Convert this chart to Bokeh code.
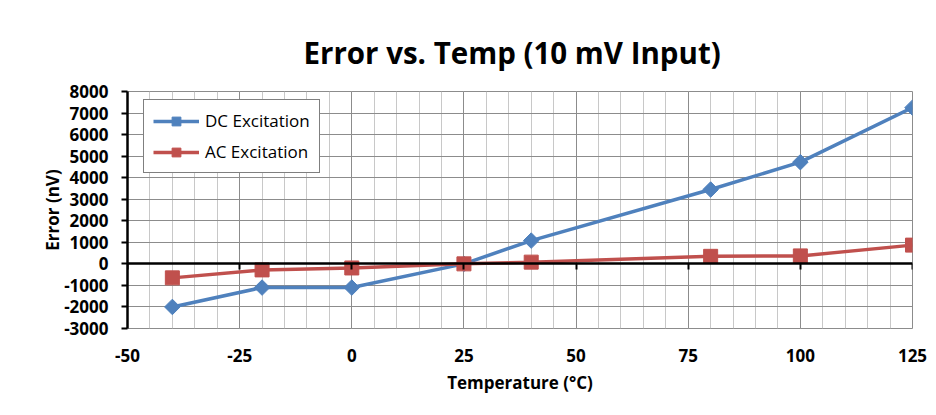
import numpy as np
from bokeh.plotting import figure
from bokeh.models import (Range1d, LinearAxis, SingleIntervalTicker, NumeralTickFormatter)
from bokeh.embed import file_html
from bokeh.resources import INLINE

# ---- data ----
temps = [-40, -20, 0, 25, 40, 80, 100, 125]
dc_error = [-2000, -1100, -1100, 0, 1080, 3450, 4720, 7250]
ac_error = [-650, -280, -190, 0, 80, 350, 370, 870]

title_text = "Error vs. Temp (10 mV Input)"
x_label = "Temperature (°C)"
y_label = "Error (nV)"
dc_name = "DC Excitation"
ac_name = "AC Excitation"

FONT = "Open Sans"
BLUE = "#4f81bd"
RED = "#c0504d"
MAJOR_GRID = "#8c8c8c"
MINOR_GRID = "#c8c8c8"

p = figure(width=936, height=410,
           x_range=Range1d(-50, 125), y_range=Range1d(-3000, 8000),
           output_backend="svg", toolbar_location=None,
           min_border_left=127, min_border_right=24,
           min_border_top=91, min_border_bottom=82)
p.background_fill_color = "white"
p.border_fill_color = "white"
p.outline_line_color = MAJOR_GRID

# title
p.title.text = title_text
p.title.align = "left"
p.title.offset = 176
p.title.standoff = 38
p.title.text_font = FONT
p.title.text_font_style = "bold"
p.title.text_font_size = "29.5px"
p.title.text_color = "black"

# x axis (labels at bottom, no line)
xax = p.below[0]
xax.ticker = SingleIntervalTicker(interval=25, num_minor_ticks=5)
xax.formatter = NumeralTickFormatter(format="0")
xax.axis_line_color = None
xax.major_tick_line_color = None
xax.minor_tick_line_color = None
xax.major_label_standoff = 14
xax.major_label_text_font = FONT
xax.major_label_text_font_style = "bold"
xax.major_label_text_font_size = "17px"
xax.major_label_text_color = "black"
xax.axis_label = x_label
xax.axis_label_standoff = 6
xax.axis_label_text_font = FONT
xax.axis_label_text_font_style = "bold"
xax.axis_label_text_font_size = "17px"
xax.axis_label_text_color = "black"

# y axis
yax = p.left[0]
yax.ticker = SingleIntervalTicker(interval=1000, num_minor_ticks=0)
yax.formatter = NumeralTickFormatter(format="0")
yax.axis_line_color = "black"
yax.axis_line_width = 2.5
yax.major_tick_line_color = "black"
yax.major_tick_line_width = 2
yax.major_tick_out = 6
yax.major_tick_in = 0
yax.minor_tick_line_color = None
yax.major_label_standoff = 13
yax.major_label_text_font = FONT
yax.major_label_text_font_style = "bold"
yax.major_label_text_font_size = "17px"
yax.major_label_text_color = "black"
yax.axis_label = y_label
yax.axis_label_standoff = -3
yax.axis_label_text_font = FONT
yax.axis_label_text_font_style = "bold"
yax.axis_label_text_font_size = "17px"
yax.axis_label_text_color = "black"

# grids
p.xgrid.grid_line_color = MAJOR_GRID
p.xgrid.minor_grid_line_color = MINOR_GRID
p.ygrid.grid_line_color = MAJOR_GRID

# zero-crossing axis line with ticks
zax = LinearAxis(fixed_location=0, ticker=SingleIntervalTicker(interval=25, num_minor_ticks=0),
                 axis_line_color="black", axis_line_width=2.5,
                 major_tick_line_color="black", major_tick_line_width=2,
                 major_tick_out=6, major_tick_in=0,
                 minor_tick_line_color=None, major_label_text_color=None,
                 level="glyph")
p.add_layout(zax, "below")

# series
p.line(temps, dc_error, line_color=BLUE, line_width=3.5, legend_label=dc_name)
p.scatter(temps, dc_error, marker="square", angle=np.pi / 4, size=11,
          fill_color=BLUE, line_color=BLUE, legend_label=dc_name)
p.line(temps, ac_error, line_color=RED, line_width=3.5, legend_label=ac_name)
p.scatter(temps, ac_error, marker="square", size=14,
          fill_color=RED, line_color=RED, legend_label=ac_name)

lg = p.legend[0]
lg.location = (16, 155)
lg.margin = 0
lg.padding = 9
lg.spacing = 8
lg.glyph_width = 46
lg.glyph_height = 22
lg.label_height = 20
lg.label_standoff = 6
lg.label_text_font = FONT
lg.label_text_font_size = "17px"
lg.label_text_color = "black"
lg.border_line_color = "black"
lg.border_line_width = 1
lg.background_fill_color = "white"
lg.background_fill_alpha = 1.0

open("out.html", "w").write(file_html(p, INLINE))
